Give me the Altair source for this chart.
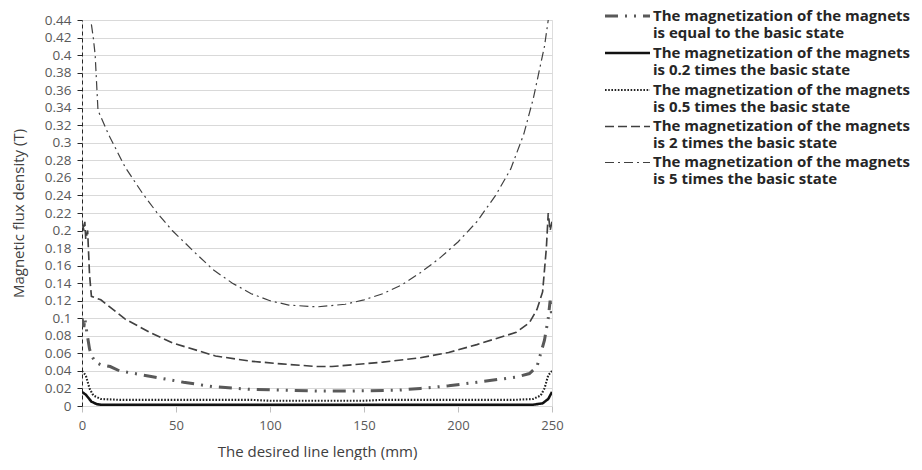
import altair as alt
import pandas as pd

# series labels (legend order)
labels = [
    "The magnetization of the magnets|is equal to the basic state",
    "The magnetization of the magnets|is 0.2 times the basic state",
    "The magnetization of the magnets|is 0.5 times the basic state",
    "The magnetization of the magnets|is 2 times the basic state",
    "The magnetization of the magnets|is 5 times the basic state",
]

# basic state (1x)
x_1 = [0, 1, 1.5, 2.5, 4, 5, 7, 10, 15, 20, 36, 54, 70, 89, 110, 125, 142, 168, 180, 195, 210, 231, 238, 242, 244, 246, 248, 249, 250]
y_1 = [0.1, 0.09, 0.1, 0.085, 0.065, 0.058, 0.05, 0.047, 0.045, 0.04, 0.034, 0.027, 0.022, 0.019, 0.018, 0.017, 0.017, 0.018, 0.02, 0.023, 0.027, 0.033, 0.037, 0.045, 0.06, 0.075, 0.1, 0.12, 0.1]

# 0.2x
x_02 = [0, 2, 5, 8, 10, 60, 125, 190, 240, 245, 248, 250]
y_02 = [0.016, 0.013, 0.005, 0.002, 0.0015, 0.0015, 0.0015, 0.0015, 0.0015, 0.003, 0.008, 0.016]

# 0.5x
x_05 = [0, 2, 4, 6, 10, 20, 90, 100, 150, 160, 230, 240, 244, 246, 248, 250]
y_05 = [0.04, 0.035, 0.02, 0.012, 0.008, 0.007, 0.007, 0.006, 0.006, 0.007, 0.007, 0.008, 0.012, 0.02, 0.035, 0.04]

# 2x
x_2 = [0, 1, 1.5, 2, 3, 4, 5, 10, 23, 36, 48, 71, 90, 106, 125, 133, 160, 180, 195, 210, 231, 238, 242, 245, 247, 248, 249, 250]
y_2 = [0.21, 0.2, 0.21, 0.19, 0.2, 0.15, 0.125, 0.121, 0.099, 0.084, 0.072, 0.057, 0.051, 0.048, 0.045, 0.045, 0.05, 0.055, 0.061, 0.07, 0.084, 0.095, 0.11, 0.13, 0.18, 0.22, 0.2, 0.21]

# 5x
x_5 = [5, 6, 7, 8.5, 14, 23, 32, 40, 48, 60, 70, 80, 90, 100, 110, 125, 140, 150, 160, 170, 180, 190, 200, 210, 220, 228, 235, 240, 244, 246, 248]
y_5 = [0.435, 0.42, 0.4, 0.337, 0.31, 0.272, 0.243, 0.22, 0.2, 0.175, 0.155, 0.14, 0.128, 0.12, 0.115, 0.113, 0.116, 0.121, 0.128, 0.138, 0.152, 0.168, 0.187, 0.21, 0.24, 0.27, 0.31, 0.35, 0.39, 0.41, 0.44]

series = [(x_1, y_1), (x_02, y_02), (x_05, y_05), (x_2, y_2), (x_5, y_5)]
rows = []
for lab, (xs, ys) in zip(labels, series):
    for xv, yv in zip(xs, ys):
        rows.append({"x": xv, "y": yv, "s": lab})
df = pd.DataFrame(rows)

colors = ["#595959", "#111111", "#222222", "#404040", "#404040"]
dashes = [[13, 7, 2, 7, 2, 7], [1, 0], [1.6, 1.6], [9, 4], [9, 4, 2, 4]]
widths = [3, 1.2, 2, 1.4, 1]

leg = alt.Legend(
    title=None, orient="none", legendX=529, legendY=-16,
    symbolType="M-1.5,-0.3L1.5,-0.3", symbolSize=900,
    labelExpr="split(datum.label, '|')",
    labelFont="Open Sans", labelFontSize=15, labelFontWeight="bold",
    labelColor="#262626", labelLimit=400, labelBaseline="alphabetic",
    rowPadding=0, labelOffset=9,
)

chart = alt.Chart(df).mark_line(strokeCap="butt", clip=True).encode(
    x=alt.X("x:Q", scale=alt.Scale(domain=[0, 250], nice=False),
            axis=alt.Axis(title="The desired line length (mm)", values=[0, 50, 100, 150, 200, 250],
                          grid=False, domainColor="#d9d9d9", tickColor="#bfbfbf", tickSize=6,
                          labelFlush=False,
                          labelFont="Open Sans", labelFontSize=13, labelColor="#595959", labelPadding=7,
                          titleFont="Open Sans", titleFontSize=15, titleFontWeight="normal",
                          titleColor="#404040", titlePadding=12)),
    y=alt.Y("y:Q", scale=alt.Scale(domain=[0, 0.44], nice=False),
            axis=alt.Axis(title="Magnetic flux density (T)", values=[i * 0.02 for i in range(23)],
                          format=".2~f", grid=True, gridColor="#d9d9d9",
                          domainColor="#262626", domainDash=[4, 3], tickColor="#262626", tickSize=5,
                          labelFont="Open Sans", labelFontSize=13.5, labelColor="#595959", labelPadding=6,
                          titleFont="Open Sans", titleFontSize=15, titleFontWeight="normal",
                          titleColor="#404040", titlePadding=18)),
    color=alt.Color("s:N", scale=alt.Scale(domain=labels, range=colors), legend=leg),
    strokeDash=alt.StrokeDash("s:N", scale=alt.Scale(domain=labels, range=dashes), legend=leg),
    strokeWidth=alt.StrokeWidth("s:N", scale=alt.Scale(domain=labels, range=widths), legend=leg),
).properties(
    width=470, height=386,
    autosize=alt.AutoSizeParams(type="none"),
    padding={"left": 74, "top": 12, "right": 362, "bottom": 54},
).configure_view(stroke=None).configure(background="white")

chart.save("out.html", embed_options={"renderer": "svg", "actions": False})
